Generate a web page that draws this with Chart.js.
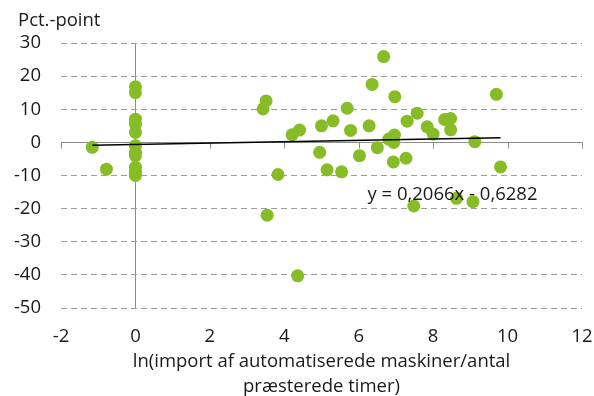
<!DOCTYPE html>
<html>
<head>
<meta charset="utf-8">
<script src="https://cdn.jsdelivr.net/npm/chart.js@4.4.0/dist/chart.umd.min.js"></script>
<style>
  html, body { margin: 0; padding: 0; background: #ffffff; }
  canvas { display: block; }
</style>
</head>
<body>
<canvas id="chart" width="594" height="396"></canvas>
<script>
// Observations: x = ln(imports of automated machinery per hours worked), y = change in pct.-points
const xValues = [
  0, 0, 0, 0, 0, 0, 0, 0, 0, 0, 0,
  -1.16, -0.78,
  3.43, 3.51, 3.54, 3.83, 4.21, 4.36, 4.41, 4.95, 5.00, 5.15,
  5.31, 5.54, 5.69, 5.78, 6.02, 6.28, 6.36, 6.50, 6.67, 6.81,
  6.94, 6.96, 6.93, 6.97, 7.27, 7.30, 7.48, 7.57, 7.84, 8.00,
  8.31, 8.47, 8.47, 8.63, 9.07, 9.12, 9.70, 9.81
];
const yValues = [
  16.8, 15.0, 7.0, 5.5, 3.0, -1.0, -3.0, -4.0, -7.5, -9.0, -10.0,
  -1.5, -8.1,
  10.1, 12.5, -22.0, -9.7, 2.3, -40.3, 3.7, -3.0, 5.0, -8.3,
  6.5, -8.9, 10.3, 3.6, -4.0, 5.0, 17.5, -1.6, 25.9, 1.0,
  0.0, 2.2, -5.9, 13.8, -4.8, 6.4, -19.2, 8.8, 4.7, 2.5,
  6.9, 7.2, 3.8, -16.9, -17.9, 0.2, 14.5, -7.4
];

// Axis ticks
const xTicks = [-2, 0, 2, 4, 6, 8, 10, 12];
const yTicks = [-50, -40, -30, -20, -10, 0, 10, 20, 30];

// Linear trend fitted to the observations
const trendSlope = 0.2066;
const trendIntercept = -0.6282;
const trendText = 'y = 0,2066x - 0,6282';

const yUnitText = 'Pct.-point';
const xTitleLines = ['ln(import af automatiserede maskiner/antal', 'præsterede timer)'];

const FONT = "'Open Sans', 'DejaVu Sans', sans-serif";
const FONT_SIZE = 18.5;
const TEXT_COLOR = '#1a1a1a';
const AXIS_COLOR = '#8c8c8c';
const GRID_COLOR = '#9b9b9b';
const DOT_COLOR = '#86bc25';

const points = xValues.map((x, i) => ({ x: x, y: yValues[i] }));
const xMin = Math.min(...xValues);
const xMax = Math.max(...xValues);
const trendPoints = [xMin, xMax].map(x => ({ x: x, y: trendSlope * x + trendIntercept }));

// Horizontal axis line through y = 0 with downward tick marks, plus text annotations
const annotations = {
  id: 'annotations',
  beforeDatasetsDraw(chart) {
    const { ctx, chartArea, scales } = chart;
    const y0 = Math.round(scales.y.getPixelForValue(0)) + 0.5;
    ctx.save();
    ctx.strokeStyle = AXIS_COLOR;
    ctx.lineWidth = 1;
    ctx.setLineDash([]);
    ctx.beginPath();
    ctx.moveTo(chartArea.left, y0);
    ctx.lineTo(chartArea.right, y0);
    xTicks.forEach(v => {
      const px = Math.round(scales.x.getPixelForValue(v)) + 0.5;
      ctx.moveTo(px, y0);
      ctx.lineTo(px, y0 + 6);
    });
    ctx.stroke();
    ctx.restore();
  },
  afterDatasetsDraw(chart) {
    const { ctx, scales } = chart;
    ctx.save();
    ctx.fillStyle = TEXT_COLOR;
    ctx.font = FONT_SIZE + "px " + FONT;
    ctx.textAlign = 'center';
    ctx.textBaseline = 'middle';
    ctx.fillText(trendText, scales.x.getPixelForValue(8.52), scales.y.getPixelForValue(-15.9));
    ctx.textAlign = 'left';
    ctx.fillText(yUnitText, 18, 21);
    ctx.restore();
  }
};

new Chart(document.getElementById('chart'), {
  type: 'scatter',
  data: {
    datasets: [
      {
        type: 'line',
        data: trendPoints,
        borderColor: '#000000',
        borderWidth: 1.5,
        pointRadius: 0,
        fill: false,
        order: 0
      },
      {
        data: points,
        backgroundColor: DOT_COLOR,
        borderWidth: 0,
        pointRadius: 6.5,
        pointHoverRadius: 6.5,
        order: 1
      }
    ]
  },
  options: {
    responsive: false,
    animation: false,
    devicePixelRatio: 1,
    layout: { padding: { top: 43, right: 0, left: 0, bottom: 0 } },
    plugins: { legend: { display: false }, tooltip: { enabled: false } },
    scales: {
      x: {
        type: 'linear',
        min: -2,
        max: 12,
        afterBuildTicks: s => { s.ticks = xTicks.map(v => ({ value: v })); },
        afterFit: s => { s.height = 88; s.paddingRight = 12; s.paddingLeft = 0; },
        ticks: {
          color: TEXT_COLOR,
          font: { family: FONT, size: FONT_SIZE },
          padding: 18,
          maxRotation: 0
        },
        grid: {
          drawTicks: false,
          color: ctx => (ctx.tick && ctx.tick.value === 0) ? AXIS_COLOR : 'rgba(0,0,0,0)',
          lineWidth: 1
        },
        border: { display: false },
        title: {
          display: true,
          text: xTitleLines,
          color: TEXT_COLOR,
          font: { family: FONT, size: FONT_SIZE, lineHeight: 1.35 },
          padding: { top: 0, bottom: -3 }
        }
      },
      y: {
        min: -50,
        max: 30,
        afterBuildTicks: s => { s.ticks = yTicks.map(v => ({ value: v })); },
        afterFit: s => { s.width = 61; },
        ticks: {
          color: TEXT_COLOR,
          font: { family: FONT, size: FONT_SIZE },
          padding: 20
        },
        grid: {
          drawTicks: false,
          color: GRID_COLOR,
          lineWidth: 1
        },
        border: { display: false, dash: [6, 4] }
      }
    }
  },
  plugins: [annotations]
});
</script>
</body>
</html>
